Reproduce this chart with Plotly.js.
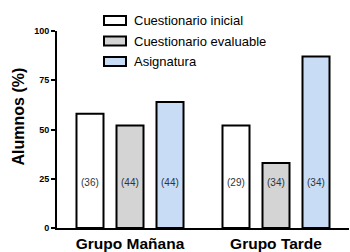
<!DOCTYPE html>
<html>
<head>
<meta charset="utf-8">
<script src="https://cdn.plot.ly/plotly-3.0.1.min.js"></script>
<style>html,body{margin:0;padding:0;background:#fff;}#chart{width:350px;height:252px;}</style>
</head>
<body>
<div id="chart"></div>
<script>
const groups = ["Grupo Mañana", "Grupo Tarde"];
const seriesNames = ["Cuestionario inicial", "Cuestionario evaluable", "Asignatura"];
const inicial = [58, 52];
const evaluable = [52, 33];
const asignatura = [64, 87];
const nInicial = ["(36)", "(29)"];
const nEvaluable = ["(44)", "(34)"];
const nAsignatura = ["(44)", "(34)"];
const colors = ["#ffffff", "#d4d4d4", "#c9dcf5"];
const yTitle = "Alumnos (%)";
const labelLevel = 23;

const values = [inicial, evaluable, asignatura];
const counts = [nInicial, nEvaluable, nAsignatura];

const W = 350, H = 252;
const M = {l: 57, r: 1, t: 31, b: 24};
const pw = W - M.l - M.r, ph = H - M.t - M.b;
const px = v => (v - M.l) / pw;
const py = v => (H - M.b - v) / ph;

const bargap = 0.178, bargroupgap = 0.325;
const slot = (1 - bargap) / values.length;
const FONT = "Liberation Sans, Arial, sans-serif";

const traces = values.map((v, j) => ({
  type: "bar",
  name: seriesNames[j],
  x: [0, 1],
  y: v,
  marker: {color: colors[j], line: {color: "#000", width: 2}},
  hoverinfo: "skip",
  showlegend: false
}));

const annotations = [];
counts.forEach((arr, j) => {
  arr.forEach((t, i) => {
    annotations.push({
      x: i + (j - (values.length - 1) / 2) * slot,
      y: labelLevel, xref: "x", yref: "y",
      text: t, showarrow: false,
      font: {family: FONT, size: 10, color: "#333"}
    });
  });
});

// manual legend (wide rectangular swatches)
const shapes = [];
const legendRows = [20.5, 41, 61.5];
seriesNames.forEach((name, j) => {
  const cy = legendRows[j];
  shapes.push({
    type: "rect", xref: "paper", yref: "paper",
    x0: px(104), x1: px(126), y0: py(cy + 4.5), y1: py(cy - 4.5),
    fillcolor: colors[j], line: {color: "#000", width: 2}
  });
  annotations.push({
    xref: "paper", yref: "paper", x: px(132), y: py(cy),
    xanchor: "left", yanchor: "middle", text: name, showarrow: false,
    font: {family: FONT, size: 13, color: "#000"}
  });
});

// y-axis title (placed slightly above the axis centre, as in the reference)
annotations.push({
  xref: "paper", yref: "paper", x: px(18), y: py(116.5),
  xanchor: "center", yanchor: "middle", textangle: -90,
  text: "<b>" + yTitle + "</b>", showarrow: false,
  font: {family: FONT, size: 16, color: "#000"}
});

const layout = {
  width: W, height: H,
  margin: {l: M.l, r: M.r, t: M.t, b: M.b, pad: 0},
  paper_bgcolor: "#fff", plot_bgcolor: "#fff",
  barmode: "group", bargap: bargap, bargroupgap: bargroupgap,
  font: {family: FONT, color: "#000"},
  showlegend: false,
  xaxis: {
    range: [-0.5, 1.5], tickmode: "array", tickvals: [0, 1], ticktext: groups,
    showline: true, linecolor: "#000", linewidth: 2, ticks: "", showgrid: false, zeroline: false,
    tickfont: {size: 15.5, family: FONT, weight: "bold"},
    fixedrange: true
  },
  yaxis: {
    range: [0, 100], tickvals: [0, 25, 50, 75, 100],
    showline: true, linecolor: "#000", linewidth: 2,
    ticks: "outside", ticklen: 4, tickwidth: 2, tickcolor: "#000",
    showgrid: false, zeroline: false,
    tickfont: {size: 9, weight: "bold"},
    fixedrange: true
  },
  shapes: shapes,
  annotations: annotations
};

Plotly.newPlot("chart", traces, layout, {displayModeBar: false, staticPlot: true});
</script>
</body>
</html>
